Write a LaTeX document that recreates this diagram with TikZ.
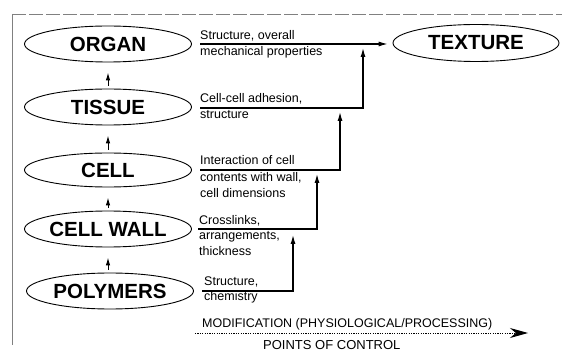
\documentclass[tikz,border=0pt]{standalone}
\usepackage{fontspec}
\setmainfont{Liberation Sans}
\usetikzlibrary{shapes.geometric,arrows.meta}
\begin{document}
\begin{tikzpicture}[x=1pt,y=-1pt,
 lvl/.style={ellipse,draw,line width=0.9pt,minimum width=167pt,minimum height=36pt,inner sep=0pt,font=\fontsize{20.5}{24}\selectfont\bfseries},
 lbl/.style={anchor=base west,inner sep=0pt,font=\fontsize{12.5}{14}\selectfont},
 conn/.style={line width=1.1pt,-{Latex[length=9pt,width=5pt]}},
 upar/.style={line width=1pt,-{Latex[length=8pt,width=4.5pt]},shorten <=3pt,shorten >=10pt},
 frame/.style={gray,line width=0.9pt}]
\useasboundingbox (0,0) rectangle (562,355);
% frame
\draw[frame,dash pattern=on 14pt off 3pt] (12,14) -- (562,14);
\draw[frame] (12,14) -- (12,345);
% levels
\node[lvl] (organ) at (108,44) {ORGAN};
\node[lvl] (tissue) at (108,107) {TISSUE};
\node[lvl,minimum height=34pt] (cell) at (108,170) {CELL};
\node[lvl] (wall) at (108,229) {CELL WALL};
\node[lvl] (poly) at (110,291) {POLYMERS};
\node[lvl,minimum width=166pt,minimum height=37pt] (texture) at (476,43) {TEXTURE};
% upward arrows
\draw[upar] (tissue.north) -- (organ.south);
\draw[upar] (cell.north) -- (tissue.south);
\draw[upar] (wall.north) -- (cell.south);
\draw[upar] (poly.north -| wall.north) -- (wall.south);
% connector coordinates
\coordinate (s1) at (200,44);
\coordinate (s2) at (200,108); \coordinate (e2) at (363,48);
\coordinate (s3) at (200,170); \coordinate (e3) at (340,112);
\coordinate (s4) at (198,229); \coordinate (e4) at (317,174);
\coordinate (s5) at (202,291); \coordinate (e5) at (293,235);
\draw[conn,shorten >=5pt] (s1) -- (s1 -| texture.west);
\draw[conn] (s2) -| (e2);
\draw[conn] (s3) -| (e3);
\draw[conn] (s4) -| (e4);
\draw[conn] (s5) -| (e5);
% labels
\node[lbl] (t1a) at (200,40) {Structure, overall};
\node[lbl] (t1b) at (200,56) {mechanical properties};
\node[lbl] (t2a) at (200,103) {Cell-cell adhesion,};
\node[lbl] (t2b) at (200,119) {structure};
\node[lbl] (t3a) at (200,165) {Interaction of cell};
\node[lbl] (t3b) at (200,182) {contents with wall,};
\node[lbl] (t3c) at (200,198) {cell dimensions};
\node[lbl] (t4a) at (199,225) {Crosslinks,};
\node[lbl] (t4b) at (199,240) {arrangements,};
\node[lbl] (t4c) at (199,256) {thickness};
\node[lbl] (t5a) at (204,286) {Structure,};
\node[lbl] (t5b) at (204,301) {chemistry};
% bottom
\node[lbl] (mod) at (202,327) {MODIFICATION (PHYSIOLOGICAL/PROCESSING)};
\node[lbl,font=\fontsize{13}{15}\selectfont] (poc) at (263,349) {POINTS OF CONTROL};
\coordinate (d1) at (195,333);
\coordinate (d2) at (528,333);
\draw[line width=1pt,dash pattern=on 1.2pt off 1.2pt,-{Stealth[length=18pt,width=10pt]}] (d1) -- (d2);
\end{tikzpicture}
\end{document}
